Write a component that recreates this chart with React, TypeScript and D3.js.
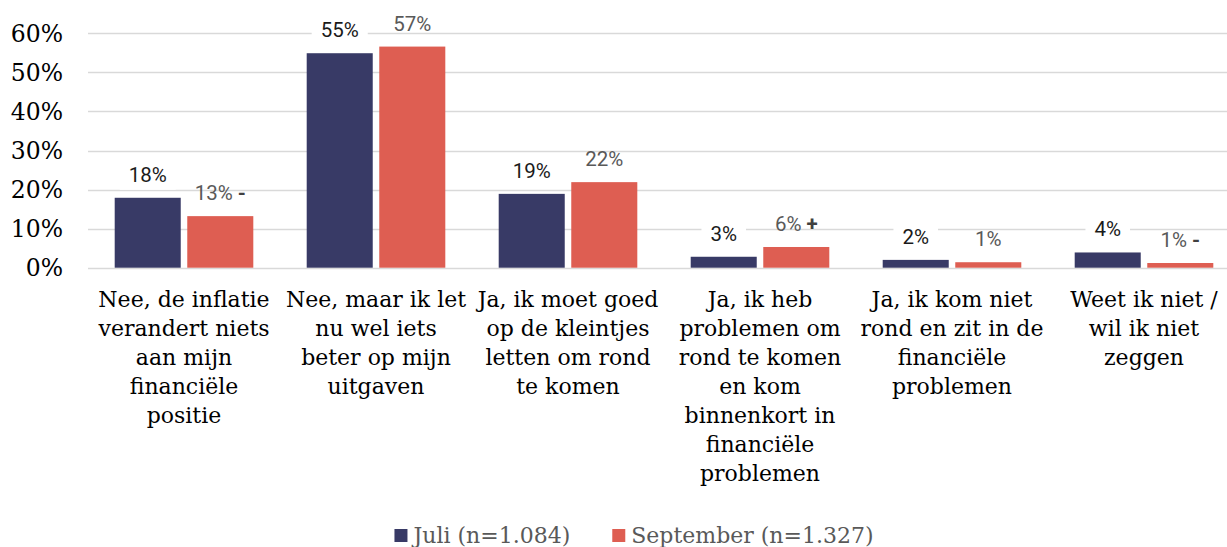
import React, { useEffect, useRef } from "react";
import * as d3 from "d3";

const categories: string[][] = [
  ["Nee, de inflatie", "verandert niets", "aan mijn", "financiële", "positie"],
  ["Nee, maar ik let", "nu wel iets", "beter op mijn", "uitgaven"],
  ["Ja, ik moet goed", "op de kleintjes", "letten om rond", "te komen"],
  ["Ja, ik heb", "problemen om", "rond te komen", "en kom", "binnenkort in", "financiële", "problemen"],
  ["Ja, ik kom niet", "rond en zit in de", "financiële", "problemen"],
  ["Weet ik niet /", "wil ik niet", "zeggen"],
];
const seriesNames = ["Juli (n=1.084)", "September (n=1.327)"];
const juliValues = [17.9, 54.9, 18.9, 2.8, 2.0, 3.9];
const septemberValues = [13.2, 56.6, 21.9, 5.3, 1.4, 1.2];
const juliLabels = ["18%", "55%", "19%", "3%", "2%", "4%"];
const septemberLabels = ["13%", "57%", "22%", "6%", "1%", "1%"];
const septemberMarks = ["-", "", "", "+", "", "-"];
const yTicks = [0, 10, 20, 30, 40, 50, 60];

const W = 1227;
const H = 547;
const NAVY = "#383A66";
const RED = "#DE5E52";
const SERIF = "'DejaVu Serif', serif";
const SANS = "Roboto, 'Noto Sans', sans-serif";

export default function App() {
  const ref = useRef<SVGSVGElement>(null);

  useEffect(() => {
    const svg = d3.select(ref.current);
    svg.selectAll("*").remove();

    const x0 = d3
      .scaleBand<number>()
      .domain(categories.map((_, i) => i))
      .range([88, 1240])
      .paddingInner(0)
      .paddingOuter(0);
    const step = x0.bandwidth();
    const x1 = d3
      .scaleBand<string>()
      .domain(["juli", "sept"])
      .range([26.7, step - 26.7])
      .paddingInner(0.09);
    const y = d3.scaleLinear().domain([0, 60]).range([267.7, 33.3]);

    // gridlines
    svg
      .append("g")
      .selectAll("line")
      .data(yTicks)
      .join("line")
      .attr("x1", 88)
      .attr("x2", 1240)
      .attr("y1", (d) => Math.round(y(d)) + 0.5)
      .attr("y2", (d) => Math.round(y(d)) + 0.5)
      .attr("stroke", "#D9D9D9")
      .attr("stroke-width", 1.5);

    // y tick labels
    svg
      .append("g")
      .selectAll("text")
      .data(yTicks)
      .join("text")
      .attr("x", 63)
      .attr("y", (d) => y(d))
      .attr("dy", "0.36em")
      .attr("text-anchor", "end")
      .attr("font-family", SERIF)
      .attr("font-size", 23.5)
      .attr("fill", "#000")
      .text((d) => `${d}%`);

    // bars
    const bars = svg.append("g");
    bars
      .selectAll("rect.j")
      .data(juliValues)
      .join("rect")
      .attr("class", "j")
      .attr("x", (_, i) => (x0(i) as number) + (x1("juli") as number))
      .attr("width", x1.bandwidth())
      .attr("y", (d) => y(d))
      .attr("height", (d) => y(0) - y(d))
      .attr("fill", NAVY);
    bars
      .selectAll("rect.s")
      .data(septemberValues)
      .join("rect")
      .attr("class", "s")
      .attr("x", (_, i) => (x0(i) as number) + (x1("sept") as number))
      .attr("width", x1.bandwidth())
      .attr("y", (d) => y(d))
      .attr("height", (d) => y(0) - y(d))
      .attr("fill", RED);

    // Juli value labels with white box
    const jl = svg.append("g");
    juliValues.forEach((v, i) => {
      const cx = (x0(i) as number) + (x1("juli") as number) + x1.bandwidth() / 2;
      const by = y(v) - 16;
      const g = jl.append("g");
      const rect = g.append("rect").attr("fill", "#fff");
      const t = g
        .append("text")
        .attr("x", cx)
        .attr("y", by)
        .attr("text-anchor", "middle")
        .attr("font-family", SANS)
        .attr("font-size", 20.5)
        .attr("font-weight", 400)
        .attr("fill", "#1a1a1a")
        .text(juliLabels[i]);
      const w = (t.node() as SVGTextElement).getComputedTextLength();
      rect
        .attr("x", cx - w / 2 - 9)
        .attr("y", by - 20)
        .attr("width", w + 18)
        .attr("height", 28);
    });

    // September value labels
    const sl = svg.append("g");
    septemberValues.forEach((v, i) => {
      const cx = (x0(i) as number) + (x1("sept") as number) + x1.bandwidth() / 2;
      const by = y(v) - 16;
      const t = sl
        .append("text")
        .attr("x", cx)
        .attr("y", by)
        .attr("text-anchor", "middle")
        .attr("font-family", SANS)
        .attr("font-size", 20.5)
        .attr("font-weight", 400)
        .attr("fill", "#595959");
      t.append("tspan").text(septemberLabels[i]);
      if (septemberMarks[i]) {
        t.append("tspan").text(" ");
        t.append("tspan")
          .attr("font-weight", "bold")
          .attr("fill", "#404040")
          .text(septemberMarks[i]);
      }
    });

    // category labels
    const cl = svg.append("g");
    categories.forEach((lines, i) => {
      const cx = (x0(i) as number) + step / 2;
      const t = cl
        .append("text")
        .attr("text-anchor", "middle")
        .attr("font-family", SERIF)
        .attr("font-size", 22)
        .attr("fill", "#000");
      lines.forEach((ln, k) => {
        t.append("tspan").attr("x", cx).attr("y", 307 + k * 29).text(ln);
      });
    });

    // legend
    const lg = svg.append("g");
    const colors = [NAVY, RED];
    const items = seriesNames.map((name, i) => {
      const g = lg.append("g");
      g.append("rect").attr("width", 13).attr("height", 13).attr("y", 529).attr("fill", colors[i]);
      const t = g
        .append("text")
        .attr("y", 543)
        .attr("font-family", SERIF)
        .attr("font-size", 22)
        .attr("fill", "#595959")
        .text(name);
      const w = (t.node() as SVGTextElement).getComputedTextLength();
      return { g, t, w: 19 + w };
    });
    const gap = 42;
    const total = items.reduce((s, it) => s + it.w, 0) + gap * (items.length - 1);
    let xpos = 634 - total / 2;
    items.forEach((it) => {
      it.g.select("rect").attr("x", xpos);
      it.t.attr("x", xpos + 19);
      xpos += it.w + gap;
    });
  }, []);

  return (
    <svg
      ref={ref}
      width={W}
      height={H}
      style={{ position: "absolute", left: 0, top: 0, display: "block", background: "#fff" }}
    />
  );
}
